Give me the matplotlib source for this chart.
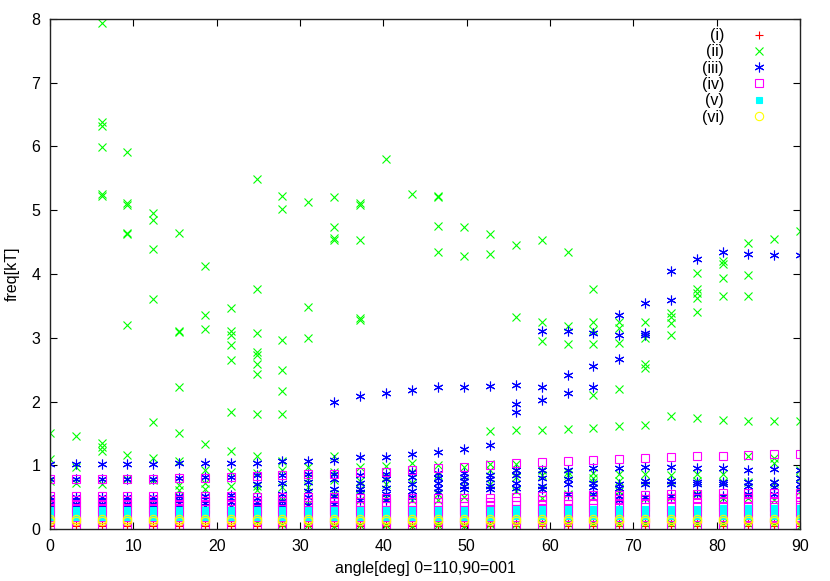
import matplotlib
matplotlib.use('Agg')
import matplotlib.pyplot as plt

plt.rcParams['font.family'] = ['Liberation Sans', 'DejaVu Sans']
plt.rcParams['font.size'] = 11.5

# angles (deg) at which the frequencies were computed
angles = [0.0, 3.1, 6.2, 9.3, 12.4, 15.5, 18.6, 21.7, 24.8, 27.9,
          31.0, 34.1, 37.2, 40.3, 43.4, 46.6, 49.7, 52.8, 55.9, 59.0,
          62.1, 65.2, 68.3, 71.4, 74.5, 77.6, 80.7, 83.8, 86.9, 90.0]

# (i) red
red_a = [0.05, 0.05, 0.05, 0.05, 0.05, 0.05, 0.05, 0.05, 0.05, 0.05,
         0.05, 0.05, 0.05, 0.05, 0.05, 0.05, 0.05, 0.05, 0.05, 0.05,
         0.05, 0.05, 0.05, 0.05, 0.05, 0.05, 0.05, 0.05, 0.05, 0.05]
red_b = [0.09, 0.09, 0.09, 0.09, 0.09, 0.09, 0.09, 0.09, 0.09, 0.09,
         0.09, 0.09, 0.09, 0.09, 0.09, 0.09, 0.09, 0.09, 0.09, 0.09,
         0.09, 0.09, 0.09, 0.09, 0.09, 0.09, 0.09, 0.09, 0.09, 0.09]

# (ii) green, values per angle
green = [
    [1.51, 1.10, 0.75, 0.32, 0.18],
    [1.46, 0.98, 0.72, 0.30],
    [7.94, 6.38, 6.32, 5.99, 5.25, 5.23, 1.35, 1.29, 1.22, 0.70, 0.30],
    [5.92, 5.11, 5.09, 4.65, 4.63, 3.20, 1.16, 0.78, 0.28],
    [4.96, 4.84, 4.39, 3.60, 1.68, 1.11, 0.77, 0.40],
    [4.64, 3.11, 3.09, 2.23, 1.50, 1.06, 0.69, 0.61, 0.35],
    [4.12, 3.35, 3.14, 1.34, 0.93, 0.72, 0.62, 0.30],
    [3.47, 3.10, 3.05, 2.88, 2.65, 1.83, 1.22, 0.90, 0.68, 0.35],
    [5.49, 3.76, 3.08, 2.78, 2.73, 2.59, 2.43, 1.81, 1.15, 0.88, 0.67, 0.61, 0.12],
    [5.22, 5.02, 2.96, 2.49, 2.17, 1.80, 1.06, 0.92, 0.66, 0.45, 0.08],
    [5.13, 3.49, 3.00, 0.97, 0.80, 0.66, 0.40, 0.06],
    [5.21, 4.73, 4.56, 4.53, 1.15, 0.90, 0.77, 0.55, 0.05],
    [5.11, 5.09, 4.54, 3.31, 3.28, 0.98, 0.75, 0.62, 0.45, 0.07],
    [5.81, 0.99, 0.82, 0.70, 0.48, 0.06],
    [5.25, 1.03, 0.90, 0.72, 0.45, 0.05],
    [5.22, 5.20, 4.76, 4.35, 1.00, 0.85, 0.55, 0.45, 0.11, 0.06],
    [4.73, 4.29, 0.98, 0.75, 0.50, 0.05],
    [4.62, 4.32, 1.54, 1.02, 0.92, 0.70, 0.08],
    [4.45, 3.33, 1.55, 1.02, 0.92, 0.82, 0.60, 0.08],
    [4.54, 3.24, 2.95, 1.56, 0.92, 0.85, 0.65, 0.48, 0.10],
    [4.35, 3.19, 2.90, 1.57, 0.90, 0.85, 0.55, 0.10],
    [3.77, 3.24, 3.12, 2.90, 2.10, 1.59, 0.88, 0.80, 0.74, 0.50, 0.10],
    [3.24, 3.15, 2.92, 2.20, 1.61, 0.87, 0.75, 0.60, 0.52, 0.10],
    [3.25, 2.99, 2.59, 2.52, 1.63, 0.87, 0.74, 0.48, 0.10],
    [3.39, 3.33, 3.23, 3.05, 1.77, 0.85, 0.74, 0.50, 0.10],
    [4.01, 3.77, 3.70, 3.63, 3.40, 1.74, 0.87, 0.76, 0.55, 0.10],
    [4.21, 4.16, 3.94, 3.65, 1.71, 0.87, 0.74, 0.48, 0.10],
    [4.49, 3.98, 3.65, 1.70, 1.15, 0.74, 0.48, 0.10],
    [4.55, 1.69, 1.11, 1.03, 0.72, 0.45, 0.10],
    [4.67, 1.69, 0.93, 0.80, 0.60, 0.05],
]

# (iii) blue, values per angle
blue = [
    [1.02, 0.78, 0.50, 0.45, 0.40, 0.35],
    [1.02, 0.78, 0.50, 0.45, 0.40, 0.35],
    [1.02, 0.78, 0.50, 0.45, 0.40, 0.35],
    [1.02, 0.79, 0.50, 0.45, 0.40, 0.35],
    [1.02, 0.79, 0.50, 0.46, 0.40, 0.35],
    [1.03, 0.80, 0.51, 0.46, 0.41, 0.35],
    [1.03, 0.81, 0.52, 0.47, 0.41, 0.36],
    [1.03, 0.82, 0.53, 0.48, 0.42, 0.36],
    [1.04, 0.85, 0.70, 0.49, 0.43, 0.37],
    [1.06, 0.85, 0.72, 0.55, 0.44, 0.37],
    [1.07, 0.87, 0.74, 0.60, 0.50, 0.38],
    [2.00, 1.09, 0.86, 0.78, 0.62, 0.52, 0.40],
    [2.08, 1.13, 0.84, 0.72, 0.62, 0.58, 0.45],
    [2.14, 1.13, 0.86, 0.78, 0.65, 0.55, 0.45],
    [2.18, 1.17, 0.90, 0.82, 0.70, 0.60, 0.50],
    [2.22, 1.21, 0.88, 0.80, 0.72, 0.65, 0.58],
    [2.23, 1.26, 0.88, 0.82, 0.75, 0.68, 0.62],
    [2.24, 1.32, 0.85, 0.78, 0.68, 0.62],
    [2.26, 1.96, 1.83, 0.92, 0.85, 0.72, 0.65],
    [3.11, 2.23, 2.03, 0.92, 0.80, 0.68, 0.62],
    [3.11, 2.41, 2.13, 0.92, 0.78, 0.70, 0.55],
    [3.08, 2.56, 2.22, 0.95, 0.72, 0.66, 0.55],
    [3.36, 3.05, 2.67, 0.95, 0.70, 0.64, 0.52, 0.45],
    [3.54, 3.07, 3.05, 0.98, 0.75, 0.70, 0.50],
    [4.04, 3.59, 0.98, 0.75, 0.70, 0.52],
    [4.23, 0.95, 0.74, 0.70, 0.55],
    [4.34, 0.95, 0.74, 0.70, 0.52],
    [4.32, 0.93, 0.74, 0.68, 0.55],
    [4.30, 0.94, 0.73, 0.66, 0.55],
    [4.30, 0.93, 0.80, 0.70, 0.62],
]

# (iv) magenta branches
mag_top = [0.78, 0.78, 0.78, 0.78, 0.79, 0.80, 0.80, 0.81, 0.83, 0.85,
           0.86, 0.87, 0.89, 0.90, 0.93, 0.95, 0.98, 1.00, 1.03, 1.05,
           1.07, 1.09, 1.10, 1.12, 1.13, 1.14, 1.15, 1.16, 1.17, 1.17]
mag_1 = [0.52, 0.52, 0.52, 0.52, 0.52, 0.52, 0.51, 0.51, 0.50, 0.50,
         0.50, 0.50, 0.49, 0.49, 0.49, 0.48, 0.48, 0.49, 0.50, 0.51,
         0.52, 0.53, 0.53, 0.54, 0.55, 0.55, 0.56, 0.56, 0.57, 0.57]
mag_2 = [0.45, 0.45, 0.45, 0.45, 0.45, 0.45, 0.44, 0.44, 0.44, 0.44,
         0.43, 0.43, 0.43, 0.42, 0.42, 0.42, 0.42, 0.43, 0.44, 0.45,
         0.46, 0.46, 0.47, 0.47, 0.48, 0.48, 0.49, 0.49, 0.50, 0.50]
mag_3 = [0.38, 0.38, 0.38, 0.38, 0.38, 0.38, 0.37, 0.37, 0.37, 0.37,
         0.37, 0.36, 0.36, 0.36, 0.36, 0.36, 0.36, 0.37, 0.38, 0.38,
         0.39, 0.39, 0.40, 0.40, 0.41, 0.41, 0.42, 0.42, 0.42, 0.42]
mag_4 = [0.31, 0.31, 0.31, 0.31, 0.31, 0.31, 0.31, 0.31, 0.31, 0.31,
         0.30, 0.30, 0.30, 0.30, 0.30, 0.30, 0.30, 0.31, 0.31, 0.32,
         0.32, 0.33, 0.33, 0.34, 0.34, 0.35, 0.35, 0.35, 0.35, 0.35]
mag_5 = [0.23, 0.23, 0.23, 0.23, 0.23, 0.23, 0.23, 0.23, 0.23, 0.23,
         0.23, 0.23, 0.23, 0.23, 0.23, 0.23, 0.23, 0.24, 0.24, 0.25,
         0.25, 0.26, 0.26, 0.27, 0.27, 0.28, 0.28, 0.28, 0.28, 0.28]
mag_6 = [0.13, 0.13, 0.13, 0.13, 0.13, 0.13, 0.13, 0.13, 0.13, 0.13,
         0.13, 0.13, 0.13, 0.13, 0.13, 0.13, 0.13, 0.13, 0.14, 0.14,
         0.14, 0.15, 0.15, 0.15, 0.16, 0.16, 0.16, 0.17, 0.17, 0.17]
mag_7 = [0.06, 0.06, 0.06, 0.06, 0.06, 0.06, 0.06, 0.06, 0.06, 0.06,
         0.06, 0.06, 0.06, 0.06, 0.06, 0.06, 0.06, 0.06, 0.06, 0.06,
         0.06, 0.06, 0.06, 0.06, 0.06, 0.06, 0.06, 0.06, 0.06, 0.06]

# (v) cyan branches
cyan_1 = [0.30, 0.30, 0.30, 0.30, 0.30, 0.30, 0.30, 0.30, 0.30, 0.30,
          0.30, 0.30, 0.30, 0.30, 0.30, 0.30, 0.30, 0.30, 0.31, 0.31,
          0.31, 0.31, 0.32, 0.32, 0.32, 0.32, 0.33, 0.33, 0.33, 0.33]
cyan_2 = [0.24, 0.24, 0.24, 0.24, 0.24, 0.24, 0.24, 0.24, 0.24, 0.24,
          0.24, 0.24, 0.24, 0.24, 0.24, 0.24, 0.24, 0.24, 0.25, 0.25,
          0.25, 0.25, 0.25, 0.26, 0.26, 0.26, 0.26, 0.26, 0.26, 0.26]
cyan_3 = [0.19, 0.19, 0.19, 0.19, 0.19, 0.19, 0.19, 0.19, 0.19, 0.19,
          0.19, 0.19, 0.19, 0.19, 0.19, 0.19, 0.19, 0.19, 0.20, 0.20,
          0.20, 0.20, 0.20, 0.20, 0.21, 0.21, 0.21, 0.21, 0.21, 0.21]

# (vi) yellow branches
yel_1 = [0.15, 0.15, 0.15, 0.15, 0.15, 0.15, 0.15, 0.15, 0.15, 0.15,
         0.15, 0.15, 0.15, 0.15, 0.15, 0.15, 0.15, 0.15, 0.15, 0.15,
         0.15, 0.15, 0.15, 0.15, 0.15, 0.15, 0.15, 0.15, 0.15, 0.15]
yel_2 = [0.12, 0.12, 0.12, 0.12, 0.12, 0.12, 0.12, 0.12, 0.12, 0.12,
         0.12, 0.12, 0.12, 0.12, 0.12, 0.12, 0.12, 0.12, 0.12, 0.12,
         0.12, 0.12, 0.12, 0.12, 0.12, 0.12, 0.12, 0.12, 0.12, 0.12]

labels = ['(i)', '(ii)', '(iii)', '(iv)', '(v)', '(vi)']


def flat_ragged(vals):
    xs, ys = [], []
    for a, v in zip(angles, vals):
        xs += [a] * len(v)
        ys += v
    return xs, ys


def flat_branches(branches):
    xs, ys = [], []
    for b in branches:
        xs += angles
        ys += b
    return xs, ys


fig = plt.figure(figsize=(8.3, 5.81), dpi=100)
ax = fig.add_axes([0.0602, 0.0895, 0.9037, 0.8778])

asterisk = (6, 2, 0)
x, y = flat_branches([red_a, red_b])
ax.plot(x, y, ls='none', marker='+', color='#ff0000', ms=6, mew=0.8, label=labels[0])
x, y = flat_ragged(green)
ax.plot(x, y, ls='none', marker='x', color='#00ff00', ms=6, mew=0.8, label=labels[1])
x, y = flat_ragged(blue)
ax.plot(x, y, ls='none', marker=asterisk, color='#0000ff', ms=7, mew=0.8, label=labels[2])
x, y = flat_branches([mag_top, mag_1, mag_2, mag_3, mag_4, mag_5, mag_6, mag_7])
ax.plot(x, y, ls='none', marker='s', mfc='none', color='#ff00ff', ms=5.5, mew=0.8, label=labels[3])
x, y = flat_branches([cyan_1, cyan_2, cyan_3])
ax.plot(x, y, ls='none', marker='s', color='#00ffff', ms=5, mew=0.8, label=labels[4])
x, y = flat_branches([yel_1, yel_2])
ax.plot(x, y, ls='none', marker='o', mfc='none', color='#ffff00', ms=6, mew=0.8, label=labels[5])

ax.set_xlim(0, 90)
ax.set_ylim(0, 8)
ax.set_xticks(range(0, 91, 10))
ax.set_yticks(range(0, 9))
ax.tick_params(direction='in', length=5, width=0.8, top=True, right=True, pad=7)
for s in ax.spines.values():
    s.set_linewidth(1.0)
    s.set_color('#222222')
ax.set_xlabel('angle[deg] 0=110,90=001', labelpad=5)
ax.set_ylabel('freq[kT]', labelpad=8)

ax.legend(loc='upper right', bbox_to_anchor=(0.973, 1.004), frameon=False, markerfirst=False,
          numpoints=1, handlelength=1.2, handletextpad=1.6, labelspacing=0.08,
          borderpad=0.2)
for t in ax.get_legend().get_texts():
    t.set_ha('right')

fig.savefig('out.png', dpi=100)
